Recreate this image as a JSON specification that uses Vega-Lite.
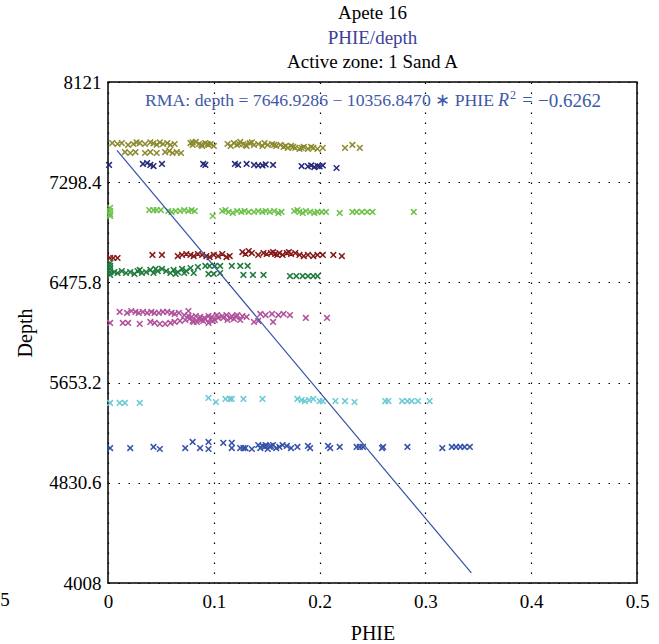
{
  "$schema": "https://vega.github.io/schema/vega-lite/v6.json",
  "width": 529,
  "height": 501,
  "autosize": {"type": "none"},
  "padding": {"left": 108, "top": 82, "right": 22, "bottom": 61},
  "background": "white",
  "config": {
    "view": {"stroke": "black", "strokeWidth": 1.5},
    "font": "Liberation Serif",
    "axis": {
      "labelFont": "Liberation Serif",
      "labelFontSize": 19,
      "labelColor": "black",
      "titleFont": "Liberation Serif",
      "titleFontSize": 20,
      "titleFontWeight": "normal",
      "titleColor": "black",
      "domain": false,
      "ticks": false,
      "grid": true,
      "gridColor": "black",
      "gridDash": [1.5, 8.5],
      "gridWidth": 1.2,
      "gridOpacity": 1,
      "labelFlush": false,
      "labelOverlap": false
    }
  },
  "datasets": {
    "logs": [
      {"g": "1", "phie": 0.004, "depth": 7620}, {"g": "1", "phie": 0.009, "depth": 7612}, {"g": "1", "phie": 0.013, "depth": 7620}, {"g": "1", "phie": 0.019, "depth": 7604},
      {"g": "1", "phie": 0.024, "depth": 7612}, {"g": "1", "phie": 0.027, "depth": 7625}, {"g": "1", "phie": 0.030, "depth": 7620}, {"g": "1", "phie": 0.035, "depth": 7612},
      {"g": "1", "phie": 0.040, "depth": 7625}, {"g": "1", "phie": 0.043, "depth": 7618}, {"g": "1", "phie": 0.046, "depth": 7606}, {"g": "1", "phie": 0.049, "depth": 7625},
      {"g": "1", "phie": 0.052, "depth": 7612}, {"g": "1", "phie": 0.056, "depth": 7620}, {"g": "1", "phie": 0.059, "depth": 7604}, {"g": "1", "phie": 0.063, "depth": 7612},
      {"g": "1", "phie": 0.078, "depth": 7620}, {"g": "1", "phie": 0.080, "depth": 7604}, {"g": "1", "phie": 0.083, "depth": 7629}, {"g": "1", "phie": 0.086, "depth": 7612},
      {"g": "1", "phie": 0.089, "depth": 7596}, {"g": "1", "phie": 0.092, "depth": 7620}, {"g": "1", "phie": 0.095, "depth": 7604}, {"g": "1", "phie": 0.097, "depth": 7612},
      {"g": "1", "phie": 0.100, "depth": 7596}, {"g": "1", "phie": 0.113, "depth": 7612}, {"g": "1", "phie": 0.116, "depth": 7596}, {"g": "1", "phie": 0.119, "depth": 7620},
      {"g": "1", "phie": 0.122, "depth": 7604}, {"g": "1", "phie": 0.125, "depth": 7629}, {"g": "1", "phie": 0.128, "depth": 7612}, {"g": "1", "phie": 0.131, "depth": 7596},
      {"g": "1", "phie": 0.134, "depth": 7620}, {"g": "1", "phie": 0.138, "depth": 7604}, {"g": "1", "phie": 0.142, "depth": 7612}, {"g": "1", "phie": 0.146, "depth": 7596},
      {"g": "1", "phie": 0.148, "depth": 7620}, {"g": "1", "phie": 0.151, "depth": 7604}, {"g": "1", "phie": 0.155, "depth": 7612}, {"g": "1", "phie": 0.159, "depth": 7596},
      {"g": "1", "phie": 0.163, "depth": 7604}, {"g": "1", "phie": 0.166, "depth": 7588}, {"g": "1", "phie": 0.170, "depth": 7580}, {"g": "1", "phie": 0.173, "depth": 7596},
      {"g": "1", "phie": 0.177, "depth": 7580}, {"g": "1", "phie": 0.181, "depth": 7572}, {"g": "1", "phie": 0.185, "depth": 7588}, {"g": "1", "phie": 0.189, "depth": 7572},
      {"g": "1", "phie": 0.194, "depth": 7580}, {"g": "1", "phie": 0.198, "depth": 7572}, {"g": "1", "phie": 0.203, "depth": 7580}, {"g": "1", "phie": 0.224, "depth": 7580},
      {"g": "1", "phie": 0.231, "depth": 7604}, {"g": "1", "phie": 0.238, "depth": 7580},
      {"g": "1", "phie": 0.080, "depth": 7625}, {"g": "1", "phie": 0.088, "depth": 7604}, {"g": "1", "phie": 0.094, "depth": 7612}, {"g": "1", "phie": 0.124, "depth": 7612},
      {"g": "1", "phie": 0.130, "depth": 7604}, {"g": "1", "phie": 0.136, "depth": 7625}, {"g": "1", "phie": 0.157, "depth": 7604}, {"g": "1", "phie": 0.168, "depth": 7596},
      {"g": "1", "phie": 0.175, "depth": 7588}, {"g": "1", "phie": 0.183, "depth": 7580}, {"g": "1", "phie": 0.192, "depth": 7588},
      {"g": "1", "phie": 0.016, "depth": 7546}, {"g": "1", "phie": 0.021, "depth": 7538}, {"g": "1", "phie": 0.026, "depth": 7546}, {"g": "1", "phie": 0.035, "depth": 7538},
      {"g": "1", "phie": 0.040, "depth": 7546}, {"g": "1", "phie": 0.046, "depth": 7538}, {"g": "1", "phie": 0.054, "depth": 7546}, {"g": "1", "phie": 0.058, "depth": 7555},
      {"g": "1", "phie": 0.061, "depth": 7538}, {"g": "1", "phie": 0.065, "depth": 7546}, {"g": "1", "phie": 0.069, "depth": 7538},

      {"g": "2", "phie": 0.001, "depth": 7440}, {"g": "2", "phie": 0.033, "depth": 7448}, {"g": "2", "phie": 0.037, "depth": 7456}, {"g": "2", "phie": 0.040, "depth": 7440},
      {"g": "2", "phie": 0.043, "depth": 7431}, {"g": "2", "phie": 0.051, "depth": 7448}, {"g": "2", "phie": 0.090, "depth": 7448}, {"g": "2", "phie": 0.092, "depth": 7440},
      {"g": "2", "phie": 0.120, "depth": 7448}, {"g": "2", "phie": 0.123, "depth": 7440}, {"g": "2", "phie": 0.131, "depth": 7448}, {"g": "2", "phie": 0.138, "depth": 7440},
      {"g": "2", "phie": 0.142, "depth": 7436}, {"g": "2", "phie": 0.146, "depth": 7436}, {"g": "2", "phie": 0.149, "depth": 7444}, {"g": "2", "phie": 0.156, "depth": 7440},
      {"g": "2", "phie": 0.183, "depth": 7431}, {"g": "2", "phie": 0.189, "depth": 7428}, {"g": "2", "phie": 0.192, "depth": 7436}, {"g": "2", "phie": 0.195, "depth": 7423},
      {"g": "2", "phie": 0.198, "depth": 7431}, {"g": "2", "phie": 0.200, "depth": 7428}, {"g": "2", "phie": 0.203, "depth": 7436}, {"g": "2", "phie": 0.216, "depth": 7415},

      {"g": "3", "phie": 0.002, "depth": 7087}, {"g": "3", "phie": 0.002, "depth": 7062}, {"g": "3", "phie": 0.002, "depth": 7037}, {"g": "3", "phie": 0.002, "depth": 7021},
      {"g": "3", "phie": 0.039, "depth": 7070}, {"g": "3", "phie": 0.043, "depth": 7070}, {"g": "3", "phie": 0.046, "depth": 7070}, {"g": "3", "phie": 0.050, "depth": 7070},
      {"g": "3", "phie": 0.057, "depth": 7062}, {"g": "3", "phie": 0.060, "depth": 7054}, {"g": "3", "phie": 0.064, "depth": 7062}, {"g": "3", "phie": 0.068, "depth": 7062},
      {"g": "3", "phie": 0.072, "depth": 7070}, {"g": "3", "phie": 0.076, "depth": 7062}, {"g": "3", "phie": 0.079, "depth": 7070}, {"g": "3", "phie": 0.082, "depth": 7062},
      {"g": "3", "phie": 0.099, "depth": 7021}, {"g": "3", "phie": 0.108, "depth": 7062}, {"g": "3", "phie": 0.111, "depth": 7070}, {"g": "3", "phie": 0.114, "depth": 7054},
      {"g": "3", "phie": 0.118, "depth": 7046}, {"g": "3", "phie": 0.122, "depth": 7062}, {"g": "3", "phie": 0.126, "depth": 7054}, {"g": "3", "phie": 0.129, "depth": 7062},
      {"g": "3", "phie": 0.133, "depth": 7054}, {"g": "3", "phie": 0.138, "depth": 7054}, {"g": "3", "phie": 0.142, "depth": 7062}, {"g": "3", "phie": 0.146, "depth": 7054},
      {"g": "3", "phie": 0.149, "depth": 7062}, {"g": "3", "phie": 0.153, "depth": 7054}, {"g": "3", "phie": 0.157, "depth": 7062}, {"g": "3", "phie": 0.161, "depth": 7046},
      {"g": "3", "phie": 0.164, "depth": 7054}, {"g": "3", "phie": 0.176, "depth": 7062}, {"g": "3", "phie": 0.179, "depth": 7070}, {"g": "3", "phie": 0.181, "depth": 7054},
      {"g": "3", "phie": 0.184, "depth": 7046}, {"g": "3", "phie": 0.187, "depth": 7062}, {"g": "3", "phie": 0.191, "depth": 7054}, {"g": "3", "phie": 0.195, "depth": 7046},
      {"g": "3", "phie": 0.198, "depth": 7054}, {"g": "3", "phie": 0.202, "depth": 7054}, {"g": "3", "phie": 0.206, "depth": 7054}, {"g": "3", "phie": 0.219, "depth": 7046},
      {"g": "3", "phie": 0.231, "depth": 7054}, {"g": "3", "phie": 0.235, "depth": 7054}, {"g": "3", "phie": 0.240, "depth": 7054}, {"g": "3", "phie": 0.245, "depth": 7054},
      {"g": "3", "phie": 0.250, "depth": 7054}, {"g": "3", "phie": 0.289, "depth": 7054},

      {"g": "4", "phie": 0.002, "depth": 6676}, {"g": "4", "phie": 0.005, "depth": 6676}, {"g": "4", "phie": 0.009, "depth": 6676}, {"g": "4", "phie": 0.042, "depth": 6701},
      {"g": "4", "phie": 0.051, "depth": 6701}, {"g": "4", "phie": 0.066, "depth": 6692}, {"g": "4", "phie": 0.070, "depth": 6701}, {"g": "4", "phie": 0.074, "depth": 6709},
      {"g": "4", "phie": 0.078, "depth": 6701}, {"g": "4", "phie": 0.081, "depth": 6692}, {"g": "4", "phie": 0.085, "depth": 6709}, {"g": "4", "phie": 0.089, "depth": 6701},
      {"g": "4", "phie": 0.093, "depth": 6692}, {"g": "4", "phie": 0.096, "depth": 6684}, {"g": "4", "phie": 0.100, "depth": 6701}, {"g": "4", "phie": 0.104, "depth": 6692},
      {"g": "4", "phie": 0.108, "depth": 6709}, {"g": "4", "phie": 0.112, "depth": 6684}, {"g": "4", "phie": 0.115, "depth": 6692}, {"g": "4", "phie": 0.127, "depth": 6725},
      {"g": "4", "phie": 0.130, "depth": 6709}, {"g": "4", "phie": 0.136, "depth": 6717}, {"g": "4", "phie": 0.142, "depth": 6701}, {"g": "4", "phie": 0.147, "depth": 6717},
      {"g": "4", "phie": 0.150, "depth": 6709}, {"g": "4", "phie": 0.154, "depth": 6717}, {"g": "4", "phie": 0.158, "depth": 6709}, {"g": "4", "phie": 0.162, "depth": 6717},
      {"g": "4", "phie": 0.165, "depth": 6701}, {"g": "4", "phie": 0.169, "depth": 6717}, {"g": "4", "phie": 0.173, "depth": 6709}, {"g": "4", "phie": 0.177, "depth": 6717},
      {"g": "4", "phie": 0.181, "depth": 6701}, {"g": "4", "phie": 0.185, "depth": 6692}, {"g": "4", "phie": 0.189, "depth": 6701}, {"g": "4", "phie": 0.194, "depth": 6692},
      {"g": "4", "phie": 0.198, "depth": 6701}, {"g": "4", "phie": 0.203, "depth": 6701}, {"g": "4", "phie": 0.213, "depth": 6701}, {"g": "4", "phie": 0.221, "depth": 6692},
      {"g": "4", "phie": 0.133, "depth": 6733}, {"g": "4", "phie": 0.156, "depth": 6725}, {"g": "4", "phie": 0.160, "depth": 6701}, {"g": "4", "phie": 0.171, "depth": 6725},

      {"g": "5", "phie": 0.002, "depth": 6635}, {"g": "5", "phie": 0.002, "depth": 6611}, {"g": "5", "phie": 0.002, "depth": 6586}, {"g": "5", "phie": 0.002, "depth": 6561},
      {"g": "5", "phie": 0.002, "depth": 6537}, {"g": "5", "phie": 0.006, "depth": 6561}, {"g": "5", "phie": 0.009, "depth": 6553}, {"g": "5", "phie": 0.013, "depth": 6569},
      {"g": "5", "phie": 0.017, "depth": 6553}, {"g": "5", "phie": 0.021, "depth": 6561}, {"g": "5", "phie": 0.025, "depth": 6545}, {"g": "5", "phie": 0.028, "depth": 6569},
      {"g": "5", "phie": 0.032, "depth": 6553}, {"g": "5", "phie": 0.036, "depth": 6561}, {"g": "5", "phie": 0.040, "depth": 6578}, {"g": "5", "phie": 0.043, "depth": 6553},
      {"g": "5", "phie": 0.047, "depth": 6569}, {"g": "5", "phie": 0.051, "depth": 6586}, {"g": "5", "phie": 0.055, "depth": 6569}, {"g": "5", "phie": 0.059, "depth": 6553},
      {"g": "5", "phie": 0.062, "depth": 6578}, {"g": "5", "phie": 0.066, "depth": 6561}, {"g": "5", "phie": 0.070, "depth": 6586}, {"g": "5", "phie": 0.074, "depth": 6569},
      {"g": "5", "phie": 0.078, "depth": 6594}, {"g": "5", "phie": 0.081, "depth": 6553}, {"g": "5", "phie": 0.085, "depth": 6602}, {"g": "5", "phie": 0.092, "depth": 6611},
      {"g": "5", "phie": 0.096, "depth": 6611}, {"g": "5", "phie": 0.101, "depth": 6611}, {"g": "5", "phie": 0.106, "depth": 6611}, {"g": "5", "phie": 0.095, "depth": 6545},
      {"g": "5", "phie": 0.100, "depth": 6545}, {"g": "5", "phie": 0.106, "depth": 6553}, {"g": "5", "phie": 0.117, "depth": 6611}, {"g": "5", "phie": 0.125, "depth": 6611},
      {"g": "5", "phie": 0.132, "depth": 6611}, {"g": "5", "phie": 0.128, "depth": 6537}, {"g": "5", "phie": 0.137, "depth": 6537}, {"g": "5", "phie": 0.147, "depth": 6537},
      {"g": "5", "phie": 0.172, "depth": 6528}, {"g": "5", "phie": 0.178, "depth": 6528}, {"g": "5", "phie": 0.184, "depth": 6528}, {"g": "5", "phie": 0.189, "depth": 6528},
      {"g": "5", "phie": 0.194, "depth": 6528}, {"g": "5", "phie": 0.198, "depth": 6528},
      {"g": "5", "phie": 0.030, "depth": 6578}, {"g": "5", "phie": 0.045, "depth": 6586}, {"g": "5", "phie": 0.064, "depth": 6545}, {"g": "5", "phie": 0.072, "depth": 6553},

      {"g": "6", "phie": 0.011, "depth": 6233}, {"g": "6", "phie": 0.018, "depth": 6225}, {"g": "6", "phie": 0.022, "depth": 6241}, {"g": "6", "phie": 0.026, "depth": 6233},
      {"g": "6", "phie": 0.029, "depth": 6225}, {"g": "6", "phie": 0.033, "depth": 6233}, {"g": "6", "phie": 0.037, "depth": 6225}, {"g": "6", "phie": 0.041, "depth": 6233},
      {"g": "6", "phie": 0.044, "depth": 6225}, {"g": "6", "phie": 0.048, "depth": 6225}, {"g": "6", "phie": 0.052, "depth": 6233}, {"g": "6", "phie": 0.056, "depth": 6233},
      {"g": "6", "phie": 0.060, "depth": 6225}, {"g": "6", "phie": 0.063, "depth": 6217}, {"g": "6", "phie": 0.067, "depth": 6225}, {"g": "6", "phie": 0.076, "depth": 6241},
      {"g": "6", "phie": 0.072, "depth": 6208}, {"g": "6", "phie": 0.076, "depth": 6200}, {"g": "6", "phie": 0.079, "depth": 6192}, {"g": "6", "phie": 0.083, "depth": 6200},
      {"g": "6", "phie": 0.087, "depth": 6192}, {"g": "6", "phie": 0.091, "depth": 6184}, {"g": "6", "phie": 0.095, "depth": 6200}, {"g": "6", "phie": 0.098, "depth": 6192},
      {"g": "6", "phie": 0.103, "depth": 6208}, {"g": "6", "phie": 0.108, "depth": 6200}, {"g": "6", "phie": 0.112, "depth": 6208}, {"g": "6", "phie": 0.117, "depth": 6200},
      {"g": "6", "phie": 0.122, "depth": 6208}, {"g": "6", "phie": 0.127, "depth": 6200}, {"g": "6", "phie": 0.131, "depth": 6192}, {"g": "6", "phie": 0.144, "depth": 6217},
      {"g": "6", "phie": 0.149, "depth": 6208}, {"g": "6", "phie": 0.155, "depth": 6217}, {"g": "6", "phie": 0.161, "depth": 6208}, {"g": "6", "phie": 0.166, "depth": 6217},
      {"g": "6", "phie": 0.172, "depth": 6208}, {"g": "6", "phie": 0.187, "depth": 6184}, {"g": "6", "phie": 0.207, "depth": 6184},
      {"g": "6", "phie": 0.002, "depth": 6143}, {"g": "6", "phie": 0.014, "depth": 6143}, {"g": "6", "phie": 0.019, "depth": 6143}, {"g": "6", "phie": 0.030, "depth": 6135},
      {"g": "6", "phie": 0.040, "depth": 6151}, {"g": "6", "phie": 0.044, "depth": 6143}, {"g": "6", "phie": 0.049, "depth": 6135}, {"g": "6", "phie": 0.054, "depth": 6135},
      {"g": "6", "phie": 0.059, "depth": 6143}, {"g": "6", "phie": 0.063, "depth": 6151}, {"g": "6", "phie": 0.068, "depth": 6160}, {"g": "6", "phie": 0.073, "depth": 6167},
      {"g": "6", "phie": 0.077, "depth": 6176}, {"g": "6", "phie": 0.080, "depth": 6160}, {"g": "6", "phie": 0.084, "depth": 6151}, {"g": "6", "phie": 0.088, "depth": 6167},
      {"g": "6", "phie": 0.092, "depth": 6176}, {"g": "6", "phie": 0.095, "depth": 6143}, {"g": "6", "phie": 0.099, "depth": 6160}, {"g": "6", "phie": 0.109, "depth": 6184},
      {"g": "6", "phie": 0.113, "depth": 6167}, {"g": "6", "phie": 0.119, "depth": 6176}, {"g": "6", "phie": 0.125, "depth": 6167}, {"g": "6", "phie": 0.138, "depth": 6151},
      {"g": "6", "phie": 0.142, "depth": 6160}, {"g": "6", "phie": 0.156, "depth": 6151},
      {"g": "6", "phie": 0.081, "depth": 6151}, {"g": "6", "phie": 0.086, "depth": 6176}, {"g": "6", "phie": 0.090, "depth": 6160}, {"g": "6", "phie": 0.097, "depth": 6176},
      {"g": "6", "phie": 0.101, "depth": 6167}, {"g": "6", "phie": 0.104, "depth": 6184}, {"g": "6", "phie": 0.116, "depth": 6184}, {"g": "6", "phie": 0.121, "depth": 6192},

      {"g": "7", "phie": 0.002, "depth": 5486}, {"g": "7", "phie": 0.011, "depth": 5486}, {"g": "7", "phie": 0.016, "depth": 5486}, {"g": "7", "phie": 0.030, "depth": 5486},
      {"g": "7", "phie": 0.095, "depth": 5527}, {"g": "7", "phie": 0.102, "depth": 5494}, {"g": "7", "phie": 0.111, "depth": 5519}, {"g": "7", "phie": 0.115, "depth": 5519},
      {"g": "7", "phie": 0.117, "depth": 5519}, {"g": "7", "phie": 0.128, "depth": 5519}, {"g": "7", "phie": 0.146, "depth": 5519}, {"g": "7", "phie": 0.179, "depth": 5519},
      {"g": "7", "phie": 0.183, "depth": 5510}, {"g": "7", "phie": 0.186, "depth": 5502}, {"g": "7", "phie": 0.190, "depth": 5510}, {"g": "7", "phie": 0.194, "depth": 5519},
      {"g": "7", "phie": 0.200, "depth": 5502}, {"g": "7", "phie": 0.203, "depth": 5502}, {"g": "7", "phie": 0.215, "depth": 5502}, {"g": "7", "phie": 0.224, "depth": 5502},
      {"g": "7", "phie": 0.233, "depth": 5494}, {"g": "7", "phie": 0.262, "depth": 5502}, {"g": "7", "phie": 0.265, "depth": 5502}, {"g": "7", "phie": 0.278, "depth": 5502},
      {"g": "7", "phie": 0.283, "depth": 5502}, {"g": "7", "phie": 0.287, "depth": 5502}, {"g": "7", "phie": 0.293, "depth": 5502}, {"g": "7", "phie": 0.304, "depth": 5502},

      {"g": "8", "phie": 0.002, "depth": 5116}, {"g": "8", "phie": 0.021, "depth": 5116}, {"g": "8", "phie": 0.043, "depth": 5125}, {"g": "8", "phie": 0.049, "depth": 5108},
      {"g": "8", "phie": 0.073, "depth": 5116}, {"g": "8", "phie": 0.080, "depth": 5166}, {"g": "8", "phie": 0.087, "depth": 5116}, {"g": "8", "phie": 0.095, "depth": 5166},
      {"g": "8", "phie": 0.095, "depth": 5108}, {"g": "8", "phie": 0.109, "depth": 5158}, {"g": "8", "phie": 0.117, "depth": 5158}, {"g": "8", "phie": 0.117, "depth": 5116},
      {"g": "8", "phie": 0.125, "depth": 5116}, {"g": "8", "phie": 0.128, "depth": 5116}, {"g": "8", "phie": 0.130, "depth": 5116}, {"g": "8", "phie": 0.136, "depth": 5108},
      {"g": "8", "phie": 0.142, "depth": 5141}, {"g": "8", "phie": 0.146, "depth": 5133}, {"g": "8", "phie": 0.149, "depth": 5141}, {"g": "8", "phie": 0.153, "depth": 5125},
      {"g": "8", "phie": 0.156, "depth": 5141}, {"g": "8", "phie": 0.159, "depth": 5116}, {"g": "8", "phie": 0.151, "depth": 5108}, {"g": "8", "phie": 0.165, "depth": 5141},
      {"g": "8", "phie": 0.169, "depth": 5133}, {"g": "8", "phie": 0.173, "depth": 5116}, {"g": "8", "phie": 0.179, "depth": 5125}, {"g": "8", "phie": 0.189, "depth": 5133},
      {"g": "8", "phie": 0.191, "depth": 5116}, {"g": "8", "phie": 0.208, "depth": 5133}, {"g": "8", "phie": 0.210, "depth": 5116}, {"g": "8", "phie": 0.219, "depth": 5125},
      {"g": "8", "phie": 0.235, "depth": 5125}, {"g": "8", "phie": 0.238, "depth": 5125}, {"g": "8", "phie": 0.241, "depth": 5125}, {"g": "8", "phie": 0.259, "depth": 5116},
      {"g": "8", "phie": 0.260, "depth": 5125}, {"g": "8", "phie": 0.283, "depth": 5125}, {"g": "8", "phie": 0.316, "depth": 5116}, {"g": "8", "phie": 0.325, "depth": 5125},
      {"g": "8", "phie": 0.329, "depth": 5125}, {"g": "8", "phie": 0.333, "depth": 5125}, {"g": "8", "phie": 0.337, "depth": 5125}, {"g": "8", "phie": 0.342, "depth": 5125},
      {"g": "8", "phie": 0.144, "depth": 5116}, {"g": "8", "phie": 0.148, "depth": 5125}, {"g": "8", "phie": 0.154, "depth": 5133}, {"g": "8", "phie": 0.162, "depth": 5125}
    ],
    "rma": [
      {"phie": 0.0085, "depth": 7558.90},
      {"phie": 0.3434, "depth": 4090.39}
    ]
  },
  "layer": [
    {
      "data": {"name": "logs"},
      "mark": {"type": "point", "shape": "M-1,-1L1,1M1,-1L-1,1", "filled": false, "size": 32, "strokeWidth": 1.5, "opacity": 1},
      "encoding": {
        "x": {
          "field": "phie", "type": "quantitative",
          "scale": {"domain": [0, 0.5], "nice": false, "zero": false},
          "axis": {"title": "PHIE", "values": [0, 0.1, 0.2, 0.3, 0.4, 0.5], "format": ".1~f", "labelPadding": 9, "titlePadding": 12}
        },
        "y": {
          "field": "depth", "type": "quantitative",
          "scale": {"domain": [4008, 8121], "nice": false, "zero": false},
          "axis": {"title": "Depth", "values": [4008, 4830.6, 5653.2, 6475.8, 7298.4, 8121], "format": ".1~f", "labelPadding": 7, "titlePadding": 13}
        },
        "color": {
          "field": "g", "type": "nominal", "legend": null,
          "scale": {
            "domain": ["1", "2", "3", "4", "5", "6", "7", "8"],
            "range": ["#8c8a2e", "#262a7a", "#6cc24a", "#851818", "#1e7a3c", "#b0509c", "#6ccad6", "#3450a8"]
          }
        }
      }
    },
    {
      "data": {"name": "rma"},
      "mark": {"type": "line", "color": "#3550a6", "strokeWidth": 1.2},
      "encoding": {
        "x": {"field": "phie", "type": "quantitative"},
        "y": {"field": "depth", "type": "quantitative"}
      }
    },
    {
      "data": {"values": [{}]},
      "mark": {"type": "text", "font": "Liberation Serif", "fontSize": 17.7, "color": "#4058a8", "align": "right", "baseline": "middle"},
      "encoding": {"x": {"datum": 0.3648, "type": "quantitative"}, "y": {"datum": 7965, "type": "quantitative"}, "text": {"value": "RMA: depth = 7646.9286 − 10356.8470 ∗ PHIE"}}
    },
    {
      "data": {"values": [{}]},
      "mark": {"type": "text", "font": "Liberation Serif", "fontSize": 18, "fontStyle": "italic", "color": "#4058a8", "align": "left", "baseline": "middle"},
      "encoding": {"x": {"datum": 0.3686, "type": "quantitative"}, "y": {"datum": 7965, "type": "quantitative"}, "text": {"value": "R"}}
    },
    {
      "data": {"values": [{}]},
      "mark": {"type": "text", "font": "Liberation Serif", "fontSize": 12, "color": "#4058a8", "align": "left", "baseline": "middle"},
      "encoding": {"x": {"datum": 0.3800, "type": "quantitative"}, "y": {"datum": 8014, "type": "quantitative"}, "text": {"value": "2"}}
    },
    {
      "data": {"values": [{}]},
      "mark": {"type": "text", "font": "Liberation Serif", "fontSize": 18, "color": "#4058a8", "align": "left", "baseline": "middle"},
      "encoding": {"x": {"datum": 0.3915, "type": "quantitative"}, "y": {"datum": 7965, "type": "quantitative"}, "text": {"value": "="}}
    },
    {
      "data": {"values": [{}]},
      "mark": {"type": "text", "font": "Liberation Serif", "fontSize": 19, "color": "#4058a8", "align": "left", "baseline": "middle"},
      "encoding": {"x": {"datum": 0.4065, "type": "quantitative"}, "y": {"datum": 7965, "type": "quantitative"}, "text": {"value": "−0.6262"}}
    },
    {
      "data": {"values": [{}]},
      "mark": {"type": "text", "font": "Liberation Serif", "fontSize": 19, "color": "black", "align": "center", "baseline": "middle"},
      "encoding": {"x": {"datum": 0.25, "type": "quantitative"}, "y": {"datum": 8687, "type": "quantitative"}, "text": {"value": "Apete 16"}}
    },
    {
      "data": {"values": [{}]},
      "mark": {"type": "text", "font": "Liberation Serif", "fontSize": 19, "color": "#3d3f9a", "align": "center", "baseline": "middle"},
      "encoding": {"x": {"datum": 0.25, "type": "quantitative"}, "y": {"datum": 8482, "type": "quantitative"}, "text": {"value": "PHIE/depth"}}
    },
    {
      "data": {"values": [{}]},
      "mark": {"type": "text", "font": "Liberation Serif", "fontSize": 19, "color": "black", "align": "center", "baseline": "middle"},
      "encoding": {"x": {"datum": 0.25, "type": "quantitative"}, "y": {"datum": 8285, "type": "quantitative"}, "text": {"value": "Active zone: 1 Sand A"}}
    },
    {
      "data": {"values": [{}]},
      "mark": {"type": "text", "font": "Liberation Serif", "fontSize": 19, "color": "black", "align": "center", "baseline": "middle"},
      "encoding": {"x": {"datum": -0.0973, "type": "quantitative"}, "y": {"datum": 3868, "type": "quantitative"}, "text": {"value": "5"}}
    }
  ]
}
